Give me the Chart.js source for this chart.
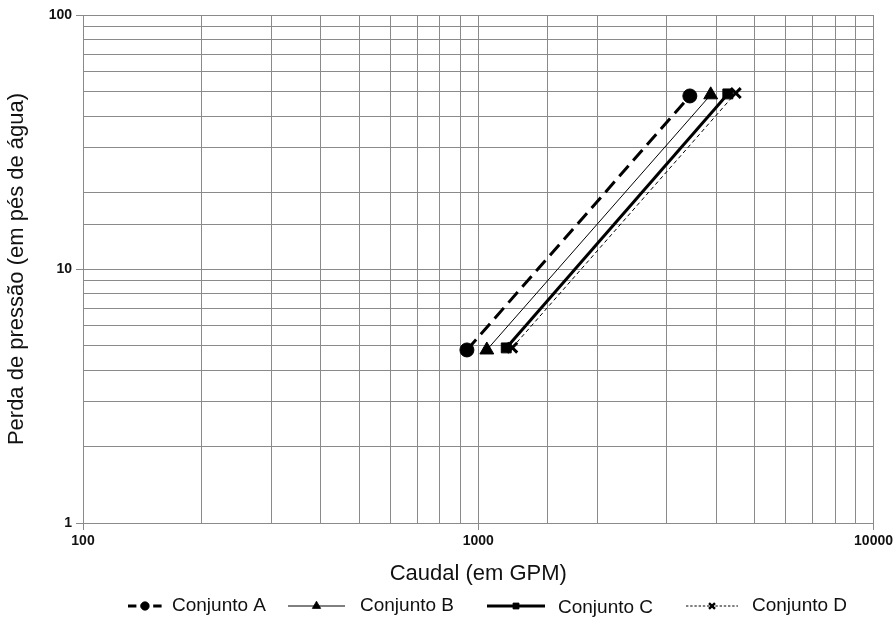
<!DOCTYPE html>
<html>
<head>
<meta charset="utf-8">
<script src="https://cdn.jsdelivr.net/npm/chart.js@4/dist/chart.umd.min.js"></script>
<style>
  html, body { margin: 0; padding: 0; background: #fff; }
  #wrap { width: 896px; height: 620px; }
</style>
</head>
<body>
<div id="wrap"><canvas id="c" width="896" height="620"></canvas></div>
<script>
// Flow (GPM) and pressure loss (ft of water) for each set
const seriesNames = ['Conjunto A', 'Conjunto B', 'Conjunto C', 'Conjunto D'];
const flowA = [936, 3430];
const lossA = [4.8, 48.0];
const flowB = [1051, 3873];
const lossB = [4.8, 48.5];
const flowC = [1177, 4279];
const lossC = [4.89, 48.9];
const flowD = [1219, 4482];
const lossD = [4.9, 49.3];

const xTickLabels = [100, 1000, 10000];
const yTickLabels = [1, 10, 100];

const GRID = '#8a8a8a';
const INK = '#000';
const FONT = '"Liberation Sans", Arial, sans-serif';

function pts(xs, ys) { return xs.map((x, i) => ({ x: x, y: ys[i] })); }
function isLabelled(list, v) { return list.some(t => Math.abs(t - v) < 1e-6 * t); }

const datasets = [
  { label: seriesNames[0], data: pts(flowA, lossA), borderWidth: 3, borderDash: [14, 7],
    pointStyle: 'circle', pointRadius: 7, pointBorderWidth: 1 },
  { label: seriesNames[1], data: pts(flowB, lossB), borderWidth: 1, borderDash: [],
    pointStyle: 'triangle', pointRadius: 8, pointBorderWidth: 1 },
  { label: seriesNames[2], data: pts(flowC, lossC), borderWidth: 3, borderDash: [],
    pointStyle: 'rect', pointRadius: 7, pointBorderWidth: 1 },
  { label: seriesNames[3], data: pts(flowD, lossD), borderWidth: 1, borderDash: [4, 3],
    pointStyle: 'crossRot', pointRadius: 7, pointBorderWidth: 3 }
].map(d => Object.assign(d, {
  borderColor: INK, backgroundColor: INK, pointBackgroundColor: INK, pointBorderColor: INK,
  showLine: true, fill: false, tension: 0, pointHoverRadius: d.pointRadius
}));

// Legend drawn under the axis title: line sample with its marker, then the name
const legendItems = [
  { lineFrom: 128, lineTo: 162, text: 172, y: 606 },
  { lineFrom: 288, lineTo: 345, text: 360, y: 606 },
  { lineFrom: 487, lineTo: 545, text: 558, y: 608 },
  { lineFrom: 686, lineTo: 738, text: 752, y: 606 }
];

const lineLegend = {
  id: 'lineLegend',
  afterDraw(chart) {
    const ctx = chart.ctx;
    ctx.save();
    chart.data.datasets.forEach((ds, i) => {
      const it = legendItems[i];
      const ly = 606;
      ctx.strokeStyle = ds.borderColor;
      ctx.lineWidth = ds.borderWidth;
      ctx.setLineDash(ds.borderDash.map(v => v * 0.6));
      ctx.beginPath();
      ctx.moveTo(it.lineFrom, ly);
      ctx.lineTo(it.lineTo, ly);
      ctx.stroke();
      ctx.setLineDash([]);
      ctx.fillStyle = INK;
      ctx.strokeStyle = INK;
      ctx.lineWidth = ds.pointBorderWidth * 0.8;
      Chart.helpers.drawPoint(ctx, { pointStyle: ds.pointStyle, radius: ds.pointRadius * 0.6,
        borderWidth: ds.pointBorderWidth * 0.8, rotation: 0 }, (it.lineFrom + it.lineTo) / 2, ly);
      ctx.fillStyle = '#111';
      ctx.font = '19px ' + FONT;
      ctx.textBaseline = 'middle';
      ctx.textAlign = 'left';
      ctx.fillText(ds.label, it.text, it.y);
    });
    ctx.restore();
  }
};

new Chart(document.getElementById('c'), {
  type: 'scatter',
  data: { datasets: datasets },
  options: {
    responsive: false,
    animation: false,
    layout: { padding: { left: 0, right: 20, top: 15, bottom: 0 } },
    plugins: { legend: { display: false }, tooltip: { enabled: false } },
    scales: {
      x: {
        type: 'logarithmic', min: 100, max: 10000,
        grid: {
          color: GRID, lineWidth: 1, tickLength: 7,
          tickColor: c => (c.tick && isLabelled(xTickLabels, c.tick.value)) ? GRID : 'rgba(0,0,0,0)'
        },
        border: { color: GRID, width: 1 },
        ticks: {
          autoSkip: false, maxRotation: 0, padding: 3, color: '#111',
          font: { family: FONT, size: 14, weight: 'bold' },
          callback: v => isLabelled(xTickLabels, v) ? String(v) : ''
        },
        title: {
          display: true, text: 'Caudal (em GPM)', color: '#111',
          font: { family: FONT, size: 22 },
          padding: { top: 0, bottom: 33 }
        },
        afterFit: s => { s.height = 97; }
      },
      y: {
        type: 'logarithmic', min: 1, max: 100,
        grid: {
          color: GRID, lineWidth: 1, tickLength: 7,
          tickColor: c => (c.tick && isLabelled(yTickLabels, c.tick.value)) ? GRID : 'rgba(0,0,0,0)'
        },
        border: { color: GRID, width: 1 },
        ticks: {
          autoSkip: false, padding: 4, color: '#111',
          font: { family: FONT, size: 14, weight: 'bold' },
          callback: v => isLabelled(yTickLabels, v) ? String(v) : ''
        },
        title: {
          display: true, text: 'Perda de pressão (em pés de água)', color: '#111',
          font: { family: FONT, size: 22 },
          padding: { top: 4, bottom: 0 }
        },
        afterFit: s => { s.width = 83; }
      }
    }
  },
  plugins: [lineLegend]
});
</script>
</body>
</html>
